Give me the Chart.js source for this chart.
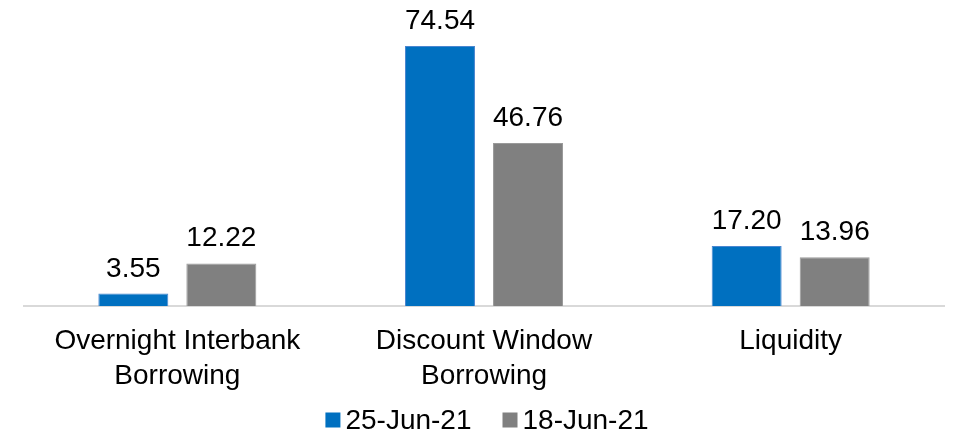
<!DOCTYPE html>
<html><head><meta charset="utf-8">
<script src="https://cdn.jsdelivr.net/npm/chart.js@4/dist/chart.umd.min.js"></script>
<style>html,body{margin:0;padding:0;background:#fff}#w{width:954px;height:438px}</style>
</head><body><div id="w"><canvas id="c"></canvas></div>
<script>
const categories = [["Overnight Interbank","Borrowing"],["Discount Window","Borrowing"],["Liquidity"]];
const series1Name = "25-Jun-21";
const series1 = [3.55, 74.54, 17.20];
const series2Name = "18-Jun-21";
const series2 = [12.22, 46.76, 13.96];

const FONT = '"Liberation Sans", Arial, sans-serif';

const labelPlugin = {
  id: 'vals',
  afterDatasetsDraw(chart) {
    const ctx = chart.ctx;
    ctx.save();
    ctx.font = '28px ' + FONT;
    ctx.fillStyle = '#000';
    ctx.textAlign = 'center';
    ctx.textBaseline = 'alphabetic';
    chart.data.datasets.forEach((ds, i) => {
      chart.getDatasetMeta(i).data.forEach((bar, j) => {
        ctx.fillText(ds.data[j].toFixed(2), bar.x, bar.y - 17);
      });
    });
    ctx.restore();
  }
};

const legendPlugin = {
  id: 'customLegend',
  afterDraw(chart) {
    const ctx = chart.ctx;
    ctx.save();
    ctx.font = '28px ' + FONT;
    ctx.textBaseline = 'middle';
    ctx.textAlign = 'left';
    const box = 15, gap = 5, spacing = 31;
    const items = chart.data.datasets.map(ds => ({ text: ds.label, color: ds.backgroundColor, w: ctx.measureText(ds.label).width }));
    let total = 0;
    items.forEach((it, i) => { total += box + gap + it.w + (i < items.length - 1 ? spacing : 0); });
    const cx = (chart.chartArea.left + chart.chartArea.right) / 2 + 3;
    let x = cx - total / 2;
    const y = 420;
    items.forEach(it => {
      ctx.fillStyle = it.color;
      ctx.fillRect(x, y - box / 2, box, box);
      x += box + gap;
      ctx.fillStyle = '#000';
      ctx.fillText(it.text, x, y + 1);
      x += it.w + spacing;
    });
    ctx.restore();
  }
};

new Chart(document.getElementById('c'), {
  type: 'bar',
  data: {
    labels: categories,
    datasets: [
      { label: series1Name, data: series1, backgroundColor: '#0070C0', borderColor: '#4A86D0', borderWidth: 1,
        categoryPercentage: 0.574, barPercentage: 0.795 },
      { label: series2Name, data: series2, backgroundColor: '#808080', borderColor: '#9a9a9a', borderWidth: 1,
        categoryPercentage: 0.574, barPercentage: 0.795 }
    ]
  },
  options: {
    responsive: true, maintainAspectRatio: false, animation: false,
    layout: { padding: { left: 24, right: 10, top: 27, bottom: 36 } },
    plugins: {
      legend: { display: false },
      tooltip: { enabled: false }
    },
    scales: {
      x: {
        grid: { display: false, drawTicks: false },
        border: { color: '#d9d9d9', width: 2 },
        afterFit(scale) { scale.height = 96; },
        ticks: { color: '#000', padding: 18, maxRotation: 0, autoSkip: false,
          font: { family: FONT, size: 28, lineHeight: 1.25 } }
      },
      y: { display: false, min: 0, max: 80 }
    }
  },
  plugins: [labelPlugin, legendPlugin]
});
</script></body></html>
